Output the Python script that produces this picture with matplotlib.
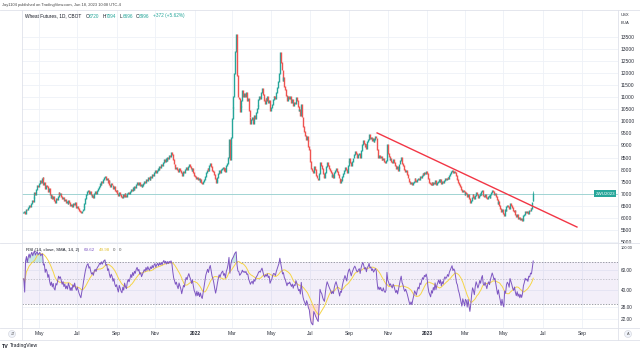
import matplotlib
matplotlib.use("Agg")
import matplotlib.pyplot as plt
from matplotlib.lines import Line2D
from matplotlib.patches import Ellipse
import matplotlib.transforms as mtransforms
import numpy as np
import pandas as pd

plt.rcParams['font.family'] = ['Liberation Sans', 'DejaVu Sans']

# daily closes, one row per month
closes_2021 = [
    6210, 6250, 6190, 6300, 6360, 6330, 6420, 6510, 6480, 6600, 6720, 6680, 6850, 7050, 6980, 7160, 7350, 7280,  # Apr
    7420, 7560, 7480, 7620, 7680, 7390, 7450, 7210, 7350, 7280, 7100, 7200, 6980, 6850, 6940, 6780, 6870, 6700, 6650, 6810, 6760,  # May
    6880, 7030, 6960, 7010, 6890, 6780, 6850, 6700, 6760, 6620, 6680, 6590, 6720, 6640, 6510, 6570, 6480, 6600, 6530, 6620, 6490, 6420,  # Jun
    6480, 6390, 6310, 6250, 6200, 6280, 6350, 6480, 6610, 6790, 6950, 7080, 7150, 7020, 7090, 6960, 6880, 6930, 6860, 7010, 7080, 7020,  # Jul
    7150, 7220, 7280, 7410, 7380, 7520, 7460, 7600, 7680, 7730, 7590, 7640, 7480, 7550, 7400, 7310, 7420, 7360, 7230, 7300, 7150, 7080,  # Aug
    7120, 7010, 6930, 7050, 6980, 6900, 6860, 6950, 6880, 7010, 6920, 6870, 6990, 7060, 7000, 7070, 7180, 7110, 7250, 7180, 7310, 7260,  # Sep
    7400, 7480, 7390, 7450, 7330, 7380, 7280, 7350, 7420, 7500, 7460, 7600, 7530, 7680, 7620, 7590, 7720, 7680, 7810, 7750, 7880,  # Oct
    7950, 7860, 7980, 8050, 7990, 8120, 8080, 8210, 8150, 8300, 8400, 8330, 8450, 8380, 8520, 8470, 8600, 8560, 8690, 8620, 8410, 8230,  # Nov
    8150, 8050, 8100, 7990, 7920, 8040, 7960, 7880, 7750, 7820, 7900, 7860, 7990, 8080, 8020, 8120, 8190, 8110, 8050, 7950, 8030, 7880, 7760,  # Dec
]
closes_2022 = [
    7700, 7620, 7690, 7580, 7630, 7520, 7570, 7480, 7440, 7510, 7600, 7720, 7860, 7950, 8060, 7980, 8150, 8270, 8120, 7980, 7900,  # Jan
    7780, 7620, 7480, 7560, 7690, 7820, 7950, 7880, 7990, 8060, 8100, 7980, 8040, 7920, 8150, 8270, 8520, 9250, 8430, 9340,  # Feb
    10130, 10590, 11020, 12000, 12900, 13600, 11890, 11010, 10930, 10400, 10600, 10850, 11300, 11050, 11150, 11020, 11200, 10880, 10950, 10450, 10180, 9900, 10060,  # Mar
    10150, 9900, 10250, 10100, 10380, 10520, 10650, 10890, 11020, 10950, 11180, 11380, 11120, 10880, 10760, 10930, 10850, 11020, 10790, 10880, 10450,  # Apr
    10580, 10680, 10920, 11050, 11030, 10940, 11200, 11420, 11650, 11980, 12840, 12460, 12130, 11690, 11820, 11450, 11320, 11080, 10850, 11020, 10950, 11050,  # May
    10920, 10780, 10890, 10650, 10800, 10750, 10980, 10850, 10620, 10440, 10480, 10250, 10700, 10180, 9780, 9560, 9420, 9250, 9380, 9220, 8950, 8830,  # Jun
    8350, 8060, 7950, 7890, 8120, 8010, 7860, 7750, 7650, 7570, 7820, 8310, 8150, 8060, 7850, 7720, 7650, 7890, 8120, 8310, 8180,  # Jul
    8060, 7950, 7860, 7720, 7780, 7690, 7860, 7980, 8060, 7920, 7780, 7650, 7480, 7590, 7550, 7720, 7850, 7960, 8090, 7990, 7890, 8160, 8350,  # Aug
    8450, 8310, 8180, 8350, 8480, 8620, 8730, 8650, 8550, 8520, 8610, 8680, 8520, 8790, 9020, 9220, 9100, 8960, 9050, 8890, 9150, 9230,  # Sep
    9470, 9280, 9350, 9200, 9310, 9180, 9260, 9380, 9310, 8850, 8520, 8600, 8480, 8550, 8420, 8400, 8480, 8350, 8310, 8360, 9020,  # Oct
    8650, 8540, 8400, 8460, 8350, 8280, 8400, 8310, 8170, 8060, 8120, 7980, 8090, 8230, 8380, 8520, 8270, 8180, 8020, 7930, 7980, 7890,  # Nov
    7780, 7650, 7520, 7440, 7480, 7390, 7460, 7520, 7610, 7560, 7490, 7570, 7630, 7580, 7700, 7660, 7750, 7820, 7780, 7880, 7850, 7920,  # Dec
]
closes_2023 = [
    7830, 7620, 7480, 7420, 7360, 7450, 7390, 7480, 7420, 7550, 7380, 7460, 7520, 7580, 7490, 7570, 7420, 7510, 7450, 7560, 7620, 7580,  # Jan
    7610, 7680, 7640, 7750, 7820, 7900, 7980, 7870, 7930, 7890, 7760, 7620, 7570, 7450, 7380, 7280, 7180, 7070, 7150, 7080,  # Feb
    6980, 7050, 7020, 6870, 6950, 6780, 6650, 6720, 6850, 6960, 6890, 6780, 6920, 7030, 6950, 6860, 6920, 7020, 6950, 7080, 7150, 6920, 6880,  # Mar
    6950, 6860, 6780, 6870, 6920, 6850, 6960, 7050, 7150, 7080, 6980, 7020, 6880, 6750, 6610, 6680, 6520, 6400, 6250, 6330,  # Apr
    6180, 6110, 6350, 6280, 6460, 6530, 6480, 6380, 6610, 6520, 6420, 6300, 6240, 6310, 6150, 6050, 6120, 5980, 6020, 5910, 5960, 5880, 5940,  # May
    6080, 6150, 6260, 6210, 6240, 6180, 6310, 6290, 6400, 6380, 6624, 6996,  # Jun
]

last_ohlc = [6720, 7094, 6696, 6996]
change_text = "+372 (+5.62%)"
rsi_vals_text = ["69.62", "49.98"]

price_ticks = list(range(5000, 14000, 500))
rsi_ticks = [22, 28, 40, 60]
rsi_top_label = "100.00"
month_starts = ["2021-05", "2021-07", "2021-09", "2021-11", "2022-01", "2022-03", "2022-05",
                "2022-07", "2022-09", "2022-11", "2023-01", "2023-03", "2023-05", "2023-07", "2023-09"]
month_labels = ["May", "Jul", "Sep", "Nov", "2022", "Mar", "May",
                "Jul", "Sep", "Nov", "2023", "Mar", "May", "Jul", "Sep"]

trend_dates = ["2022-10-14", "2023-08-24"]
trend_prices = [9520, 5616]

UP = '#26a69a'
DOWN = '#ef5350'
GRID = '#eef1f7'
BORDER = '#dfe2ea'
TXT = '#2a2e39'

close = pd.Series(closes_2021 + closes_2022 + closes_2023, dtype=float)
all_days = pd.bdate_range('2021-04-07', '2023-10-31')
n = len(close)
idx = np.arange(n)
opens = close.shift(1)
opens.iloc[0] = close.iloc[0]
opens.iloc[-1] = last_ohlc[0]

# RSI 14 (Wilder) with SMA 14
delta = close.diff().fillna(0)
up = delta.clip(lower=0).ewm(alpha=1 / 14, adjust=True).mean()
dn = (-delta.clip(upper=0)).ewm(alpha=1 / 14, adjust=True).mean()
rsi = 100 - 100 / (1 + up / dn.replace(0, np.nan))
rsi = rsi.fillna(50).clip(lower=5, upper=100)
rsi_ma = rsi.rolling(14, min_periods=1).mean()

W, H = 640, 350
fig = plt.figure(figsize=(6.4, 3.5), dpi=100)
fig.patch.set_facecolor('white')


def fx(x):
    return x / W


def fy(y):
    return 1 - y / H


ax1 = fig.add_axes([fx(22), fy(243), (618 - 22) / W, (243 - 10) / H])
ax2 = fig.add_axes([fx(22), fy(328), (618 - 22) / W, (328 - 243) / H], sharex=ax1)

xmin, xmax = -1.0, 667.0
month_idx = [int(np.searchsorted(all_days, pd.Timestamp(m + "-01"))) for m in month_starts]

# candles
lo = np.minimum(opens.values, close.values)
hi = np.maximum(opens.values, close.values)
cols = [UP if c >= o else DOWN for o, c in zip(opens.values, close.values)]
ax1.vlines(idx, lo - 20, hi + 20, colors=cols, linewidth=1.0)
ax1.vlines(idx[-1], last_ohlc[2], last_ohlc[1], colors=UP, linewidth=0.5)

# last price line + symbol tag
ax1.axhline(close.iloc[-1], color=UP, lw=0.6, alpha=0.45)
blend = mtransforms.blended_transform_factory(ax1.transAxes, ax1.transData)
ax1.text(0.995, close.iloc[-1], "ZWU2023", transform=blend, ha='right', va='center',
         fontsize=3.2, color='white',
         bbox=dict(boxstyle='square,pad=0.3', fc=UP, ec='none'))

# trend line
t_idx = [int(np.searchsorted(all_days, pd.Timestamp(d))) for d in trend_dates]
ax1.plot(t_idx, trend_prices, color='#f23645', lw=1.0)

ax1.set_xlim(xmin, xmax)
ax1.set_ylim(4953, 14620)
ax1.set_yticks(price_ticks)
ax1.set_yticklabels([str(p) for p in price_ticks])
ax1.yaxis.tick_right()
ax1.tick_params(axis='y', length=0, pad=2.2, labelsize=3.6, labelcolor=TXT)
ax1.tick_params(axis='x', length=0, labelbottom=False)
ax1.set_xticks(month_idx)
ax1.grid(True, color=GRID, lw=0.6)
ax1.set_axisbelow(True)
for s in ax1.spines.values():
    s.set_visible(False)

# RSI pane
ax2.set_yscale('log')
ax2.fill_between([xmin, xmax], 30, 70, color='#7e57c2', alpha=0.09, lw=0)
ax2.axhline(70, color='#787b86', lw=0.5, ls=(0, (2, 2)))
ax2.axhline(50, color='#787b86', lw=0.5, ls=(0, (2, 2)), alpha=0.5)
ax2.axhline(30, color='#787b86', lw=0.5, ls=(0, (2, 2)))
ax2.fill_between(idx, 70, rsi.values, where=rsi.values > 70, color=UP, alpha=0.25, lw=0, interpolate=True)
ax2.fill_between(idx, 30, rsi.values, where=rsi.values < 30, color=DOWN, alpha=0.2, lw=0, interpolate=True)
ax2.plot(idx, rsi_ma.values, color='#f5d547', lw=0.7)
ax2.plot(idx, rsi.values, color='#7e57c2', lw=0.7)
ax2.set_xlim(xmin, xmax)
ax2.set_ylim(18.4, 104)
ax2.yaxis.set_minor_locator(matplotlib.ticker.NullLocator())
ax2.set_yticks(rsi_ticks)
ax2.set_yticklabels(["%.2f" % v for v in rsi_ticks])
ax2.yaxis.tick_right()
ax2.tick_params(axis='y', which='both', length=0, pad=2.2, labelsize=3.4, labelcolor=TXT)
ax2.set_xticks(month_idx)
ax2.set_xticklabels(month_labels)
ax2.tick_params(axis='x', length=0, pad=2.4, labelsize=3.6, labelcolor=TXT)
for lab in ax2.get_xticklabels():
    if lab.get_text() in ("2022", "2023"):
        lab.set_fontweight('bold')
ax2.grid(True, color=GRID, lw=0.6)
ax2.set_axisbelow(True)
for s in ax2.spines.values():
    s.set_visible(False)
fig.text(fx(621), fy(248), rsi_top_label, fontsize=2.8, color=TXT, va='center')


def hline(y, x0, x1):
    fig.add_artist(Line2D([fx(x0), fx(x1)], [fy(y), fy(y)], color=BORDER, lw=0.6))


def vline(x, y0, y1):
    fig.add_artist(Line2D([fx(x), fx(x)], [fy(y0), fy(y1)], color=BORDER, lw=0.6))


hline(10, 0, 640)
hline(243, 0, 640)
hline(328, 0, 640)
hline(340, 0, 640)
vline(22, 10, 340)
vline(618, 10, 340)

# header texts
fig.text(fx(2), fy(5), "Jay1104 published on TradingView.com, Jun 18, 2023 10:08 UTC-4",
         fontsize=2.9, color='#444444', va='center')
fig.text(fx(25), fy(16), "Wheat Futures, 1D, CBOT", fontsize=3.4, color='#131722', va='center')
ohlc_x = [86, 103, 120, 136]
for x, letter, v in zip(ohlc_x, "OHLC", last_ohlc):
    fig.text(fx(x), fy(16), letter, fontsize=3.4, color='#131722', va='center')
    fig.text(fx(x + 3), fy(16), str(v), fontsize=3.4, color=UP, va='center')
fig.text(fx(153), fy(16), change_text, fontsize=3.4, color=UP, va='center')

fig.text(fx(26), fy(250), "RSI (14, close, SMA, 14, 2)", fontsize=3.2, color='#131722', va='center')
fig.text(fx(84), fy(250), rsi_vals_text[0], fontsize=3.2, color='#7e57c2', va='center')
fig.text(fx(99), fy(250), rsi_vals_text[1], fontsize=3.2, color='#e0c030', va='center')
fig.text(fx(113), fy(250), "0", fontsize=3.2, color='#555555', va='center')
fig.text(fx(119), fy(250), "0", fontsize=3.2, color='#555555', va='center')

# price axis unit
fig.text(fx(621), fy(15), "USX", fontsize=3.0, color=TXT, va='center')
fig.text(fx(621), fy(23), "BUA", fontsize=3.0, color=TXT, va='center')

# small buttons in the time axis row
fig.add_artist(Ellipse((fx(12), fy(334)), 7 / W, 7 / H, fc='#f0f3fa', ec='#d1d4dc', lw=0.4))
fig.text(fx(12), fy(334), "⇵", fontsize=2.8, color='#555555', ha='center', va='center',
         family=['DejaVu Sans'])
fig.add_artist(Ellipse((fx(628), fy(334)), 7 / W, 7 / H, fc='#f0f3fa', ec='#d1d4dc', lw=0.4))
fig.text(fx(628), fy(334), "A", fontsize=2.8, color='#555555', ha='center', va='center')

# logo
fig.text(fx(2), fy(346), "TV", fontsize=3.8, color='#131722', fontweight='bold', va='center')
fig.text(fx(10), fy(346), "TradingView", fontsize=3.6, color='#131722', va='center')

fig.savefig("out.png", dpi=100, facecolor='white')
